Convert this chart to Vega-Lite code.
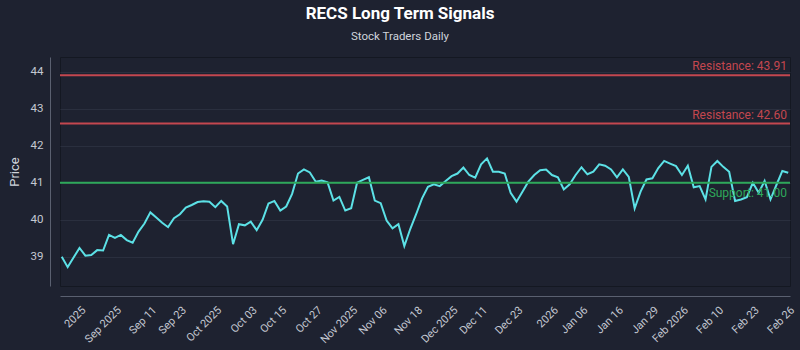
{
  "$schema": "https://vega.github.io/schema/vega-lite/v6.json",
  "autosize": {"type": "none"},
  "width": 730,
  "height": 229,
  "padding": {"left": 60, "top": 57, "right": 10, "bottom": 64},
  "background": "#1e2230",
  "title": {
    "text": "RECS Long Term Signals",
    "subtitle": "Stock Traders Daily",
    "anchor": "middle",
    "dx": -25,
    "offset": 14,
    "fontSize": 17,
    "fontWeight": "bold",
    "color": "#ffffff",
    "subtitleColor": "#d0d4dc",
    "subtitleFontSize": 11.5,
    "subtitlePadding": 8
  },
  "datasets": {
    "prices": [
      {"date": "2025-08-29", "price": 39.00},
      {"date": "2025-09-02", "price": 38.72},
      {"date": "2025-09-03", "price": 38.98},
      {"date": "2025-09-04", "price": 39.24},
      {"date": "2025-09-05", "price": 39.03},
      {"date": "2025-09-08", "price": 39.05},
      {"date": "2025-09-09", "price": 39.18},
      {"date": "2025-09-10", "price": 39.17},
      {"date": "2025-09-11", "price": 39.59},
      {"date": "2025-09-12", "price": 39.51},
      {"date": "2025-09-15", "price": 39.59},
      {"date": "2025-09-16", "price": 39.45},
      {"date": "2025-09-17", "price": 39.38},
      {"date": "2025-09-18", "price": 39.68},
      {"date": "2025-09-19", "price": 39.90},
      {"date": "2025-09-22", "price": 40.20},
      {"date": "2025-09-23", "price": 40.06},
      {"date": "2025-09-24", "price": 39.92},
      {"date": "2025-09-25", "price": 39.80},
      {"date": "2025-09-26", "price": 40.04},
      {"date": "2025-09-29", "price": 40.15},
      {"date": "2025-09-30", "price": 40.33},
      {"date": "2025-10-01", "price": 40.40},
      {"date": "2025-10-02", "price": 40.48},
      {"date": "2025-10-03", "price": 40.50},
      {"date": "2025-10-06", "price": 40.49},
      {"date": "2025-10-07", "price": 40.34},
      {"date": "2025-10-08", "price": 40.51},
      {"date": "2025-10-09", "price": 40.36},
      {"date": "2025-10-10", "price": 39.34},
      {"date": "2025-10-13", "price": 39.88},
      {"date": "2025-10-14", "price": 39.85},
      {"date": "2025-10-15", "price": 39.95},
      {"date": "2025-10-16", "price": 39.72},
      {"date": "2025-10-17", "price": 40.00},
      {"date": "2025-10-20", "price": 40.44},
      {"date": "2025-10-21", "price": 40.51},
      {"date": "2025-10-22", "price": 40.25},
      {"date": "2025-10-23", "price": 40.36},
      {"date": "2025-10-24", "price": 40.70},
      {"date": "2025-10-27", "price": 41.25},
      {"date": "2025-10-28", "price": 41.36},
      {"date": "2025-10-29", "price": 41.28},
      {"date": "2025-10-30", "price": 41.03},
      {"date": "2025-10-31", "price": 41.06},
      {"date": "2025-11-03", "price": 41.01},
      {"date": "2025-11-04", "price": 40.52},
      {"date": "2025-11-05", "price": 40.62},
      {"date": "2025-11-06", "price": 40.25},
      {"date": "2025-11-07", "price": 40.31},
      {"date": "2025-11-10", "price": 41.00},
      {"date": "2025-11-11", "price": 41.08},
      {"date": "2025-11-12", "price": 41.15},
      {"date": "2025-11-13", "price": 40.52},
      {"date": "2025-11-14", "price": 40.45},
      {"date": "2025-11-17", "price": 39.98},
      {"date": "2025-11-18", "price": 39.77},
      {"date": "2025-11-19", "price": 39.88},
      {"date": "2025-11-20", "price": 39.29},
      {"date": "2025-11-21", "price": 39.75},
      {"date": "2025-11-24", "price": 40.15},
      {"date": "2025-11-25", "price": 40.58},
      {"date": "2025-11-26", "price": 40.89},
      {"date": "2025-11-28", "price": 40.96},
      {"date": "2025-12-01", "price": 40.91},
      {"date": "2025-12-02", "price": 41.05},
      {"date": "2025-12-03", "price": 41.18},
      {"date": "2025-12-04", "price": 41.25},
      {"date": "2025-12-05", "price": 41.41},
      {"date": "2025-12-08", "price": 41.21},
      {"date": "2025-12-09", "price": 41.14},
      {"date": "2025-12-10", "price": 41.50},
      {"date": "2025-12-11", "price": 41.66},
      {"date": "2025-12-12", "price": 41.30},
      {"date": "2025-12-15", "price": 41.30},
      {"date": "2025-12-16", "price": 41.25},
      {"date": "2025-12-17", "price": 40.73},
      {"date": "2025-12-18", "price": 40.49},
      {"date": "2025-12-19", "price": 40.76},
      {"date": "2025-12-22", "price": 41.03},
      {"date": "2025-12-23", "price": 41.21},
      {"date": "2025-12-24", "price": 41.34},
      {"date": "2025-12-26", "price": 41.36},
      {"date": "2025-12-29", "price": 41.21},
      {"date": "2025-12-30", "price": 41.15},
      {"date": "2025-12-31", "price": 40.82},
      {"date": "2026-01-02", "price": 40.96},
      {"date": "2026-01-05", "price": 41.21},
      {"date": "2026-01-06", "price": 41.42},
      {"date": "2026-01-07", "price": 41.23},
      {"date": "2026-01-08", "price": 41.30},
      {"date": "2026-01-09", "price": 41.50},
      {"date": "2026-01-12", "price": 41.46},
      {"date": "2026-01-13", "price": 41.36},
      {"date": "2026-01-14", "price": 41.15},
      {"date": "2026-01-15", "price": 41.36},
      {"date": "2026-01-16", "price": 41.16},
      {"date": "2026-01-20", "price": 40.31},
      {"date": "2026-01-21", "price": 40.76},
      {"date": "2026-01-22", "price": 41.09},
      {"date": "2026-01-23", "price": 41.12},
      {"date": "2026-01-26", "price": 41.40},
      {"date": "2026-01-27", "price": 41.59},
      {"date": "2026-01-28", "price": 41.52},
      {"date": "2026-01-29", "price": 41.45},
      {"date": "2026-01-30", "price": 41.21},
      {"date": "2026-02-02", "price": 41.46},
      {"date": "2026-02-03", "price": 40.88},
      {"date": "2026-02-04", "price": 40.91},
      {"date": "2026-02-05", "price": 40.55},
      {"date": "2026-02-06", "price": 41.43},
      {"date": "2026-02-09", "price": 41.59},
      {"date": "2026-02-10", "price": 41.43},
      {"date": "2026-02-11", "price": 41.30},
      {"date": "2026-02-12", "price": 40.51},
      {"date": "2026-02-13", "price": 40.55},
      {"date": "2026-02-17", "price": 40.61},
      {"date": "2026-02-18", "price": 41.00},
      {"date": "2026-02-19", "price": 40.73},
      {"date": "2026-02-20", "price": 41.05},
      {"date": "2026-02-23", "price": 40.55},
      {"date": "2026-02-24", "price": 40.94},
      {"date": "2026-02-25", "price": 41.32},
      {"date": "2026-02-26", "price": 41.27}
    ],
    "levels": [
      {"kind": "Resistance", "value": 43.91, "label": "Resistance: 43.91"},
      {"kind": "Resistance", "value": 42.60, "label": "Resistance: 42.60"},
      {"kind": "Support", "value": 41.00, "label": "Support: 41.00"}
    ]
  },
  "layer": [
    {
      "data": {"name": "prices"},
      "mark": {"type": "line", "color": "#5ce1e6", "strokeWidth": 2},
      "encoding": {
        "x": {
          "field": "date",
          "type": "ordinal",
          "scale": {"type": "point", "padding": 0.3},
          "axis": {
            "title": null,
            "grid": false,
            "ticks": false,
            "offset": 10,
            "labelAngle": -45,
            "labelPadding": 8,
            "labelOverlap": false,
            "labelFontSize": 11,
            "values": ["2025-09-04", "2025-09-12", "2025-09-22", "2025-09-29", "2025-10-07", "2025-10-15", "2025-10-22", "2025-10-30", "2025-11-07", "2025-11-14", "2025-11-24", "2025-12-03", "2025-12-10", "2025-12-18", "2025-12-29", "2026-01-06", "2026-01-14", "2026-01-23", "2026-01-30", "2026-02-09", "2026-02-18", "2026-02-26"],
            "labelExpr": "['2025','Sep 2025','Sep 11','Sep 23','Oct 2025','Oct 03','Oct 15','Oct 27','Nov 2025','Nov 06','Nov 18','Dec 2025','Dec 11','Dec 23','2026','Jan 06','Jan 16','Jan 29','Feb 2026','Feb 10','Feb 23','Feb 26'][indexof(['2025-09-04','2025-09-12','2025-09-22','2025-09-29','2025-10-07','2025-10-15','2025-10-22','2025-10-30','2025-11-07','2025-11-14','2025-11-24','2025-12-03','2025-12-10','2025-12-18','2025-12-29','2026-01-06','2026-01-14','2026-01-23','2026-01-30','2026-02-09','2026-02-18','2026-02-26'], datum.value)]"
          }
        },
        "y": {
          "field": "price",
          "type": "quantitative",
          "title": "Price",
          "scale": {"domain": [38.21, 44.4], "nice": false, "zero": false},
          "axis": {
            "title": "Price",
            "values": [39, 40, 41, 42, 43, 44],
            "ticks": false,
            "offset": 10,
            "labelPadding": 7,
            "labelFontSize": 11.5,
            "titleFontSize": 13,
            "titleFontWeight": "normal",
            "titlePadding": 9
          }
        }
      }
    },
    {
      "data": {"name": "levels"},
      "mark": {"type": "rule", "strokeWidth": 2},
      "encoding": {
        "y": {"field": "value", "type": "quantitative", "title": "Price"},
        "color": {
          "field": "kind",
          "type": "nominal",
          "scale": {"domain": ["Resistance", "Support"], "range": ["#c4474f", "#2ea85a"]},
          "legend": null
        }
      }
    },
    {
      "data": {"name": "levels"},
      "transform": [{"filter": "datum.kind === 'Resistance'"}],
      "mark": {"type": "text", "align": "right", "baseline": "alphabetic", "dx": -3, "dy": -5, "fontSize": 12},
      "encoding": {
        "x": {"value": "width"},
        "y": {"field": "value", "type": "quantitative", "title": "Price"},
        "text": {"field": "label"},
        "color": {"field": "kind", "type": "nominal", "legend": null}
      }
    },
    {
      "data": {"name": "levels"},
      "transform": [{"filter": "datum.kind === 'Support'"}],
      "mark": {"type": "text", "align": "right", "baseline": "top", "dx": -3, "dy": 5, "fontSize": 12},
      "encoding": {
        "x": {"value": "width"},
        "y": {"field": "value", "type": "quantitative", "title": "Price"},
        "text": {"field": "label"},
        "color": {"field": "kind", "type": "nominal", "legend": null}
      }
    }
  ],
  "config": {
    "font": "Roboto",
    "view": {"stroke": "#141822", "strokeWidth": 1},
    "axis": {
      "domainColor": "#5a6070",
      "domainWidth": 1,
      "gridColor": "#2a2f3e",
      "gridWidth": 1,
      "labelColor": "#c4c8d2",
      "titleColor": "#d0d4dc",
      "labelFont": "Roboto",
      "titleFont": "Roboto"
    },
    "title": {"font": "Roboto", "subtitleFont": "Roboto"}
  }
}
